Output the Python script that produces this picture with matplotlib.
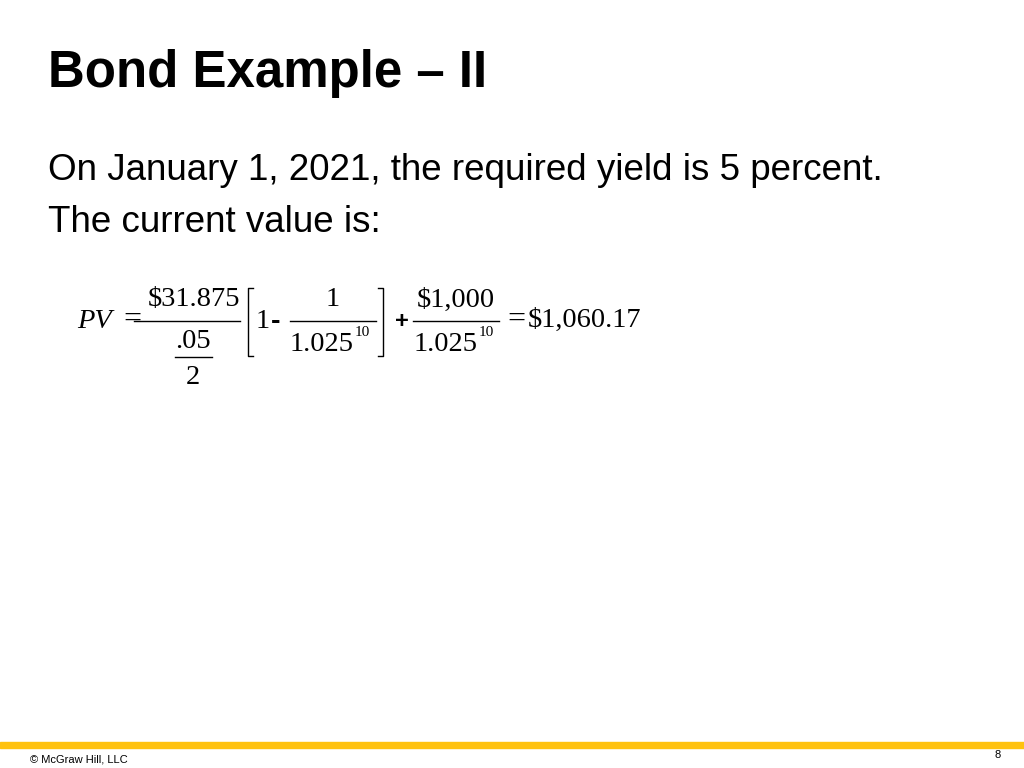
import matplotlib
matplotlib.use("Agg")
import matplotlib.pyplot as plt
from matplotlib.lines import Line2D

title = "Bond Example – II"
body_lines = ["On January 1, 2021, the required yield is 5 percent.", "The current value is:"]
footer_left = "© McGraw Hill, LLC"
page_no = "8"

W, H = 1024, 768
fig = plt.figure(figsize=(10.24, 7.68), dpi=100)

def fx(x): return x / W
def fy(y): return 1 - y / H

def t(x, y, s, size=20.5, ha="left", va="center", family="Liberation Serif", **kw):
    fig.text(fx(x), fy(y), s, fontsize=size, ha=ha, va=va, family=family, **kw)

def hline(x0, x1, y, lw=1.0):
    fig.add_artist(Line2D([fx(x0), fx(x1)], [fy(y), fy(y)], color="black", lw=lw))

def bracket(x, y0, y1, side):
    d = 5 if side == "l" else -5
    fig.add_artist(Line2D([fx(x + d), fx(x), fx(x), fx(x + d)],
                          [fy(y0), fy(y0), fy(y1), fy(y1)], color="black", lw=1.0))

# Title and body
t(48, 74, title, size=36.7, family="Liberation Sans", weight="bold")
t(48, 170, body_lines[0], size=26.5, family="Liberation Sans")
t(48, 223, body_lines[1], size=26.5, family="Liberation Sans")

# Formula
t(77, 322, "PV", style="italic")
t(123, 320, "=", size=23)
t(194, 300, "$31.875", ha="center")
hline(134, 240, 321)
t(193, 342, ".05", ha="center")
hline(175, 212, 357)
t(193, 378, "2", ha="center")
bracket(248, 288, 356, "l")
t(256, 322, "1")
t(271, 322, "-", family="Liberation Sans", weight="bold")
t(333, 300, "1", ha="center")
hline(290, 376, 321)
t(290, 344, "1.025")
t(355, 333, "10", size=11)
bracket(383, 288, 356, "r")
t(402, 321, "+", ha="center", family="Liberation Sans", weight="bold", size=17)
t(456, 300, "$1,000", ha="center")
hline(413, 499, 321)
t(414, 344, "1.025")
t(479, 333, "10", size=11)
t(507, 320, "=", size=23)
t(528, 320, "$1,060.17")

# Footer
fig.add_artist(plt.Rectangle((0, fy(748)), 1, 6 / H, color="#FFC20E", transform=fig.transFigure))
t(30, 759, footer_left, size=8, family="Liberation Sans")
t(1001, 755, page_no, size=8, family="Liberation Sans", ha="right")

fig.savefig("out.png", dpi=100)
